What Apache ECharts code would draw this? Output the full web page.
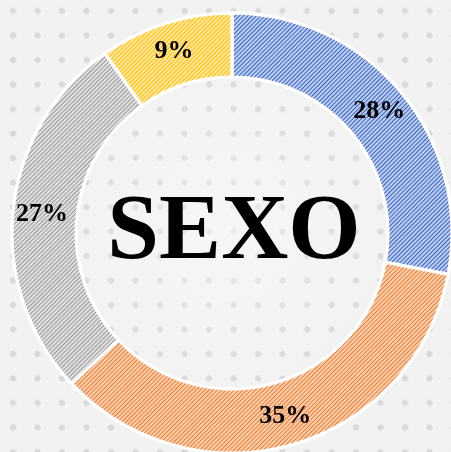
<!DOCTYPE html>
<html>
<head>
<meta charset="utf-8">
<script src="https://cdn.jsdelivr.net/npm/echarts@6/dist/echarts.min.js"></script>
<style>
  html, body { margin: 0; padding: 0; }
  body {
    width: 451px; height: 452px;
    background-color: #f2f2f2;
    background-image:
      radial-gradient(circle at 50% 50%, rgba(250,250,250,0.55) 0, rgba(250,250,250,0) 55%),
      radial-gradient(circle, #d9d9d9 2.7px, rgba(217,217,217,0) 3.5px);
    background-size: 451px 452px, 24.5px 24.5px;
    background-position: 0 0, 0.75px -1.25px;
  }
  #chart { width: 451px; height: 452px; }
</style>
</head>
<body>
<div id="chart"></div>
<script>
const names = ["A", "B", "C", "D"];
const values = [28, 35, 27.2, 9.8];
const percentLabels = ["28%", "35%", "27%", "9%"];
const baseColors = ["#bccdee", "#f9cfaf", "#e0e0e0", "#ffe6a0"];
const stripeColors = ["#3a65c4", "#ed7d31", "#9a9a9a", "#ffc000"];
const centerTitle = "SEXO";

const chart = echarts.init(document.getElementById("chart"));

const option = {
  backgroundColor: "transparent",
  graphic: [
    {
      type: "text",
      style: {
        x: 234,
        y: 234,
        text: centerTitle,
        font: "bold 93px 'Liberation Serif', 'Times New Roman', serif",
        fill: "#000",
        align: "center",
        verticalAlign: "middle"
      }
    }
  ],
  series: [
    {
      type: "pie",
      center: [232, 233],
      radius: [156, 220],
      startAngle: 90,
      clockwise: true,
      silent: true,
      itemStyle: {
        borderColor: "#fff",
        borderWidth: 3
      },
      label: {
        show: true,
        position: "inside",
        formatter: p => percentLabels[p.dataIndex],
        fontFamily: "'Liberation Serif', 'Times New Roman', serif",
        fontWeight: "bold",
        fontSize: 26,
        color: "#000",
        padding: [6, 0, 0, 0]
      },
      labelLine: { show: false },
      data: values.map((v, i) => ({
        name: names[i],
        value: v,
        itemStyle: {
          color: baseColors[i],
          decal: {
            symbol: "rect",
            symbolSize: 1,
            color: stripeColors[i],
            dashArrayX: [1, 0],
            dashArrayY: [1, 2],
            rotation: -Math.PI / 4
          }
        }
      }))
    }
  ]
};

chart.setOption(option);
</script>
</body>
</html>
